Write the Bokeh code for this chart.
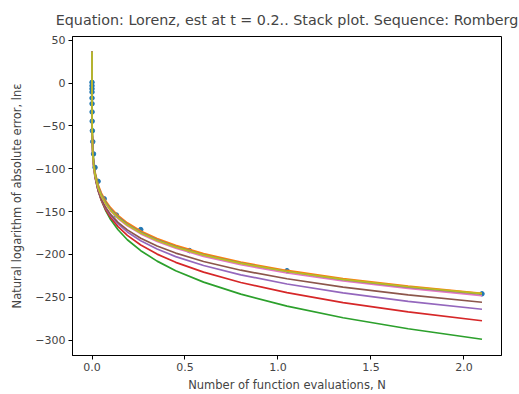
from bokeh.plotting import figure
from bokeh.models import Range1d, FixedTicker, CustomJSTickFormatter, Label
from bokeh.embed import file_html
from bokeh.resources import INLINE

# Romberg sequence points (number of function evaluations, ln error)
dot_n = [8, 16, 32, 64, 128, 256, 512, 1024, 2048, 4096, 8192, 16384, 32768,
         65536, 131072, 262144, 524288, 1048576, 2097152]
dot_err = [1.0, -3.0, -6.6, -10.4, -17.4, -24.0, -33.6, -44.4, -55.6, -68.3, -82.6,
           -98.4, -114.6, -135.0, -154.0, -171.0, -195.5, -219.0, -246.0]

# sample positions along the curves
curve_n = [1, 64, 1024, 4096, 8192, 16384, 32768, 50000, 75000, 100000, 140000,
           190000, 262144, 350000, 450000, 600000, 800000, 1048576, 1350000,
           1700000, 2097152]

orange = [37, -26.4, -57.4, -78.3, -90.4, -103.7, -118.4, -128.1, -138.0, -145.4, -154.5,
          -163.1, -172.5, -181.4, -189.4, -199.0, -209.0, -218.7, -228.2, -237.1, -245.5]
green = [37, -16.5, -50.3, -74.5, -89.1, -105.5, -124.1, -136.6, -149.4, -159.2, -171.2,
         -182.8, -195.6, -207.8, -219.0, -232.3, -246.3, -260.3, -273.9, -286.8, -299.0]
red = [37, -23.3, -56.7, -79.8, -93.4, -108.5, -125.4, -136.7, -148.2, -156.9, -167.5,
       -177.7, -189.0, -199.6, -209.2, -220.7, -232.8, -244.6, -256.2, -267.1, -277.4]
purple = [37, -27.2, -59.9, -82.1, -95.1, -109.4, -125.2, -135.8, -146.5, -154.5, -164.3,
          -173.7, -184.0, -193.7, -202.5, -212.9, -223.8, -234.5, -244.9, -254.8, -264.0]
brown = [37, -30.0, -62.3, -83.9, -96.4, -110.2, -125.4, -135.4, -145.6, -153.2, -162.5,
         -171.3, -181.0, -190.2, -198.4, -208.2, -218.4, -228.4, -238.1, -247.2, -255.8]
pink = [37, -29.5, -61.0, -82.0, -94.1, -107.5, -122.2, -131.9, -141.8, -149.1, -158.1,
        -166.6, -176.0, -184.8, -192.7, -202.2, -212.0, -221.7, -231.0, -239.7, -248.0]
gray = [37, -27.8, -59.0, -79.9, -92.0, -105.3, -120.1, -129.8, -139.6, -147.0, -156.0,
        -164.6, -174.0, -182.9, -190.9, -200.4, -210.2, -219.9, -229.3, -238.2, -246.5]
olive = [37, -29.9, -61.3, -82.1, -94.1, -107.3, -121.9, -131.5, -141.2, -148.5, -157.3,
         -165.7, -175.0, -183.7, -191.5, -200.8, -210.4, -219.9, -229.1, -237.7, -245.8]

series = [("#ff7f0e", orange), ("#2ca02c", green), ("#d62728", red),
          ("#9467bd", purple), ("#8c564b", brown), ("#e377c2", pink),
          ("#7f7f7f", gray), ("#bcbd22", olive)]

x_ticks = [0, 500000, 1000000, 1500000, 2000000]
y_ticks = [-300, -250, -200, -150, -100, -50, 0, 50]

FONT = "DejaVu Sans"

p = figure(width=519, height=394, output_backend="svg", toolbar_location=None,
           x_range=Range1d(-104858, 2202010), y_range=Range1d(-318, 54.5),
           title="Equation: Lorenz, est at t = 0.2.. Stack plot. Sequence: Romberg",
           min_border_left=72, min_border_right=18, min_border_top=34, min_border_bottom=38)

p.title.align = "center"
p.title.text_font = FONT
p.title.text_font_size = "14.3px"
p.title.text_font_style = "normal"
p.title.standoff = 18

p.scatter(dot_n, dot_err, size=4.5, color="#1f77b4")
for col, vals in series:
    p.line(curve_n, vals, line_color=col, line_width=1.7)

p.xgrid.visible = False
p.ygrid.visible = False
p.outline_line_color = "black"
p.outline_line_width = 1
p.background_fill_color = "white"
p.border_fill_color = "white"

for ax in (p.xaxis[0], p.yaxis[0]):
    ax.major_label_text_font = FONT
    ax.major_label_text_font_size = "11px"
    ax.axis_label_text_font = FONT
    ax.axis_label_text_font_size = "11.5px"
    ax.axis_label_text_font_style = "normal"
    ax.major_tick_out = 4
    ax.major_tick_in = 0
    ax.minor_tick_out = 0
    ax.minor_tick_in = 0
    ax.axis_line_color = "black"
    ax.major_label_standoff = 3
    ax.axis_label_standoff = 4
p.yaxis[0].axis_label_standoff = 8

p.xaxis[0].ticker = FixedTicker(ticks=x_ticks)
p.yaxis[0].ticker = FixedTicker(ticks=y_ticks)
p.xaxis[0].formatter = CustomJSTickFormatter(code="return (tick/1e6).toFixed(1);")
p.yaxis[0].formatter = CustomJSTickFormatter(
    code="return tick < 0 ? '\u2212' + Math.abs(tick) : String(tick);")
p.xaxis[0].axis_label = "Number of function evaluations, N"
p.yaxis[0].axis_label = "Natural logarithm of absolute error, ln\u03b5"

p.add_layout(Label(x=2202010, y=-318, text="1e6", text_align="right",
                   text_baseline="middle", x_offset=-4, y_offset=-24,
                   text_font=FONT, text_font_size="11px", text_color="black"))

open("out.html", "w").write(file_html(p, INLINE))
